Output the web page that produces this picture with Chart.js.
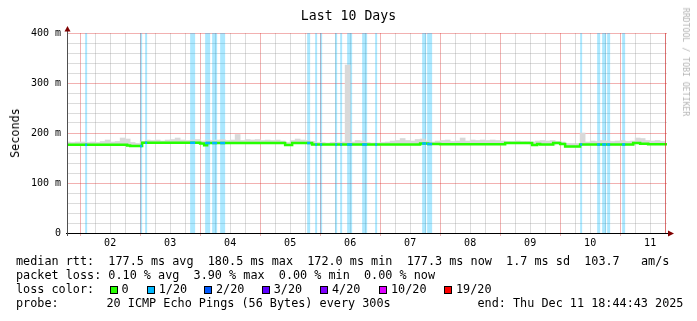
<!DOCTYPE html>
<html><head><meta charset="utf-8">
<script src="https://cdn.jsdelivr.net/npm/chart.js@4.4.1/dist/chart.umd.min.js"></script>
<style>
html,body{margin:0;padding:0;background:#fff;}
#wrap{position:relative;width:697px;height:321px;overflow:hidden;font-family:"DejaVu Sans Mono",monospace;color:#000;}
canvas{position:absolute;left:0;top:0;}
.t{position:absolute;white-space:pre;font-size:11.8px;line-height:14px;}
.sq{position:absolute;width:6px;height:6px;border:1px solid #000;}
#title{position:absolute;left:0;top:7.5px;width:697px;text-align:center;font-size:13.2px;line-height:16px;white-space:pre;}
#ylab{position:absolute;left:15px;top:133px;transform:translate(-50%,-50%) rotate(-90deg);font-size:11.8px;line-height:14px;white-space:pre;}
#wm{position:absolute;left:686px;top:61.5px;transform:translate(-50%,-50%) rotate(90deg);font-size:8.2px;line-height:10px;white-space:pre;color:#b4b4b4;}
</style></head>
<body>
<div id="wrap">
<canvas id="c" width="697" height="321"></canvas>
<div id="title">Last 10 Days</div>
<div id="ylab">Seconds</div>
<div id="wm">RRDTOOL / TOBI OETIKER</div>
<div class="t" style="left:16px;top:254.4px">median rtt:  177.5 ms avg  180.5 ms max  172.0 ms min  177.3 ms now  1.7 ms sd  103.7   am/s</div>
<div class="t" style="left:16px;top:268.4px">packet loss: 0.10 % avg  3.90 % max  0.00 % min  0.00 % now</div>
<div class="t" style="left:16px;top:282.4px">loss color:</div>
<div id="lossLegend"></div>
<div class="t" style="left:16px;top:296.4px">probe:</div>
<div class="t" style="left:106.5px;top:296.4px">20 ICMP Echo Pings (56 Bytes) every 300s</div>
<div class="t" style="left:477.5px;top:296.4px">end: Thu Dec 11 18:44:43 2025</div>
</div>
<script>
// ---- data (hours measured from Tue Dec 2 00:00) ----
const dayLabels = ['02','03','04','05','06','07','08','09','10','11'];
const startHour = -5.2547;   // Mon Dec 1 18:44:43
const endHour = 234.7453;    // Thu Dec 11 18:44:43

const medianHours = [-5.2547, 18.8, 20.0, 24.8, 48.0, 49.6, 50.8, 82.0, 84.8, 92.8, 136.0, 139.2, 144.0, 170.0, 180.8, 182.8, 184.0, 189.2, 192.0, 194.0, 200.0, 221.2, 224.0, 227.2];
const medianMs    = [176.5, 175.0, 174.0, 180.5, 179.0, 175.5, 180.0, 176.0, 180.0, 177.0, 179.0, 178.0, 177.5, 180.0, 176.0, 178.0, 177.0, 180.0, 178.0, 173.0, 177.0, 180.0, 178.5, 177.3];

const lossStartHours = [2.0, 24.0, 26.0, 44.0, 50.0, 52.8, 56.0, 90.8, 94.0, 96.0, 102.0, 104.0, 106.8, 112.8, 118.0, 136.8, 138.8, 200.0, 206.8, 208.8, 210.8, 216.8];
const lossEndHours   = [2.8, 24.8, 26.8, 46.0, 52.0, 54.8, 58.0, 92.0, 94.8, 96.8, 102.8, 104.8, 108.8, 114.8, 118.8, 138.4, 140.8, 200.8, 208.0, 210.4, 212.0, 218.0];
const lossPings      = [1, 1, 1, 1, 1, 1, 1, 1, 1, 1, 1, 1, 1, 1, 1, 1, 1, 1, 1, 1, 1, 1];

const smokeFirstHour = -5;   // centre of first 2-hour bucket
const smokeStepHours = 2;
const smokeTopMs = [
182,181,182,182,181,182,181,183,186,182,
183,190,188,181,178,183,186,185,186,184,
186,187,190,186,185,186,187,184,186,185,
186,187,185,186,197,185,187,186,187,185,
186,185,186,184,181,185,188,186,185,183,
181,181,180,181,181,182,336,182,185,184,
181,180,180,181,182,184,185,189,185,184,
187,188,184,182,184,185,186,183,184,190,
184,186,185,186,185,186,185,184,183,183,
184,183,183,182,184,185,184,185,183,182,
179,178,178,200,182,184,183,185,184,183,
184,185,183,184,190,189,185,184,185,183
];

const lossLegendKeys = [0, 1, 2, 3, 4, 10, 19];
const lossColors = {0:'#26ff00', 1:'#00b8ff', 2:'#0059ff', 3:'#5e00ff', 4:'#7e00ff', 10:'#dd00ff', 19:'#ff0000'};

// ---- legend squares ----
const legendX = [109.5, 146.7, 204, 261.7, 320, 379, 444];
const lg = document.getElementById('lossLegend');
lossLegendKeys.forEach((k, i) => {
  const s = document.createElement('div');
  s.className = 'sq';
  s.style.left = legendX[i] + 'px';
  s.style.top = '286px';
  s.style.background = lossColors[k];
  lg.appendChild(s);
  const t = document.createElement('div');
  t.className = 't';
  t.style.left = (legendX[i] + 12) + 'px';
  t.style.top = '282.4px';
  t.textContent = k === 0 ? '0' : k + '/20';
  lg.appendChild(t);
});

// ---- build datasets ----
function medianAt(h) {
  let v = medianMs[0];
  for (let i = 0; i < medianHours.length; i++) if (medianHours[i] <= h) v = medianMs[i];
  return v;
}
const medianPts = medianHours.map((h, i) => ({x: h, y: medianMs[i]}));
medianPts.push({x: endHour, y: medianMs[medianMs.length - 1]});

const stripePts = [{x: startHour, y: 0}];
const lossMedPts = [];
lossStartHours.forEach((s, i) => {
  const e = lossEndHours[i];
  stripePts.push({x: s, y: 400}, {x: e, y: 0});
  const m = medianAt((s + e) / 2);
  lossMedPts.push({x: s, y: m}, {x: e, y: m}, {x: e, y: null});
});
stripePts.push({x: endHour, y: 0});

const smokePts = smokeTopMs.map((top, i) => {
  const h = smokeFirstHour + i * smokeStepHours;
  const m = medianAt(h);
  return {x: h, y: [m - 1, Math.max(top, m)]};
});

const xTicks = [];
for (let h = 0; h <= endHour; h += 6) xTicks.push(h);

const RED = 'rgba(220,40,40,0.36)';
const GRAY = 'rgba(140,140,140,0.30)';
const FONT_AXIS = {family: 'DejaVu Sans Mono', size: 10};

const axesPlugin = {
  id: 'axes',
  afterDatasetsDraw(chart) {
    const {ctx, chartArea: a, scales: {x}} = chart;
    ctx.save();
    const xe = Math.round(x.getPixelForValue(endHour)) - 1.5;
    ctx.strokeStyle = 'rgba(220,40,40,0.6)';
    ctx.lineWidth = 1;
    ctx.beginPath(); ctx.moveTo(xe, a.top); ctx.lineTo(xe, a.bottom); ctx.stroke();
    ctx.strokeStyle = '#000';
    ctx.beginPath(); ctx.moveTo(a.left - 1, a.bottom + 0.5); ctx.lineTo(a.right + 3, a.bottom + 0.5); ctx.stroke();
    ctx.strokeStyle = '#505050';
    ctx.beginPath(); ctx.moveTo(a.left + 0.5, a.bottom + 3); ctx.lineTo(a.left + 0.5, a.top - 3); ctx.stroke();
    ctx.fillStyle = '#800000';
    ctx.beginPath(); ctx.moveTo(a.right + 7, a.bottom + 0.5); ctx.lineTo(a.right + 1, a.bottom - 2.5); ctx.lineTo(a.right + 1, a.bottom + 3.5); ctx.closePath(); ctx.fill();
    ctx.beginPath(); ctx.moveTo(a.left + 0.5, a.top - 7); ctx.lineTo(a.left - 2.5, a.top - 1.5); ctx.lineTo(a.left + 3.5, a.top - 1.5); ctx.closePath(); ctx.fill();
    ctx.restore();
  }
};

new Chart(document.getElementById('c'), {
  type: 'line',
  data: {
    datasets: [
      {type: 'line', data: lossMedPts, borderColor: lossColors[lossPings[0]], borderWidth: 2.5, pointRadius: 0, spanGaps: false, stepped: true, order: 0},
      {type: 'line', data: medianPts, borderColor: lossColors[0], borderWidth: 2.5, pointRadius: 0, stepped: true, order: 1},
      {type: 'bar', data: smokePts, backgroundColor: '#d9d9d9', borderWidth: 0, barPercentage: 1, categoryPercentage: 1, grouped: false, order: 2},
      {type: 'line', data: stripePts, borderColor: 'transparent', borderWidth: 0, backgroundColor: 'rgba(0,184,255,0.33)', fill: 'origin', pointRadius: 0, stepped: true, order: 3}
    ]
  },
  options: {
    responsive: false,
    animation: false,
    events: [],
    layout: {padding: {top: 33, right: 30, left: 0, bottom: 0}},
    plugins: {legend: {display: false}, tooltip: {enabled: false}, title: {display: false}},
    scales: {
      x: {
        type: 'linear', min: startHour, max: endHour, offset: false,
        afterBuildTicks: (s) => { s.ticks = xTicks.map(v => ({value: v})); },
        afterFit: (s) => { s.height = 88; },
        ticks: {
          autoSkip: false, maxRotation: 0, minRotation: 0, padding: 1, color: '#000', font: FONT_AXIS,
          callback: (v) => (v % 24 === 12 ? dayLabels[(v - 12) / 24] : '')
        },
        grid: {
          offset: false, lineWidth: 1, drawTicks: true, tickLength: 3,
          color: (c) => (c.tick && c.tick.value % 24 === 0 ? RED : GRAY),
          tickColor: (c) => (c.tick && c.tick.value % 24 === 0 ? RED : 'rgba(0,0,0,0)')
        },
        border: {display: false}
      },
      y: {
        min: 0, max: 400,
        afterFit: (s) => { s.width = 67; },
        ticks: {
          stepSize: 20, autoSkip: false, padding: 6, color: '#000', font: FONT_AXIS,
          callback: (v) => (v === 0 ? '0' : (v % 100 === 0 ? v + ' m' : ''))
        },
        grid: {
          lineWidth: 1, drawTicks: false,
          color: (c) => (c.tick && c.tick.value % 100 === 0 ? RED : GRAY)
        },
        border: {display: false}
      }
    }
  },
  plugins: [axesPlugin]
});
</script>
</body></html>
